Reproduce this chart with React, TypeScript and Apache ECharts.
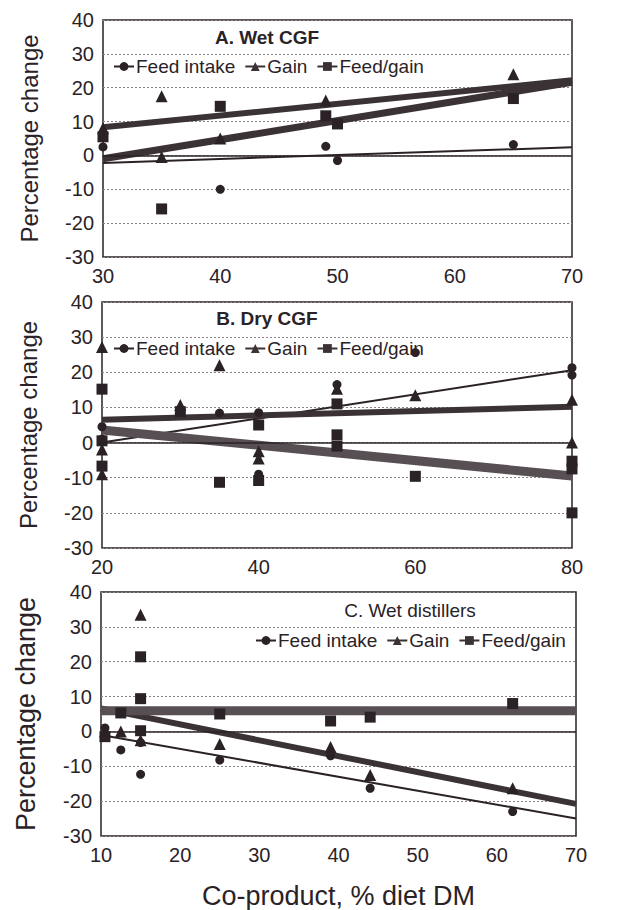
import React, { useEffect, useRef } from "react";
import * as echarts from "echarts";

// ---- Data ----
const panelTitles = ["A. Wet CGF", "B. Dry CGF", "C. Wet distillers"];
const seriesNames = ["Feed intake", "Gain", "Feed/gain"];
const yMin = -30;
const yMax = 40;
const yStep = 10;
const xRangeA = [30, 70, 10];
const xRangeB = [20, 80, 20];
const xRangeC = [10, 70, 10];

// Panel A: Wet CGF
const aFeedIntakePts = [[30, 2.5], [40, -10], [49, 2.7], [50, -1.5], [65, 3.2]];
const aGainPts = [[30, 8], [35, 17.5], [35, -0.5], [40, 5], [49, 16.2], [65, 24]];
const aFeedGainPts = [[30, 5.5], [35, -15.8], [40, 14.5], [49, 11.7], [50, 9.3], [65, 16.8]];
const aFeedIntakeFit = [[30, -2.2], [70, 2.4]];
const aGainFit = [[30, 8.3], [70, 22.2]];
const aFeedGainFit = [[30, -1], [70, 21.6]];

// Panel B: Dry CGF
const bFeedIntakePts = [[20, 4.5], [20, 1], [35, 8.4], [40, 8.5], [40, -9], [40, -10], [50, 16.5], [60, 25.6], [80, 21.3], [80, 19.2]];
const bGainPts = [[20, 27.2], [20, -2], [20, -9], [30, 10.7], [35, 22], [40, -4.5], [40, -2.5], [50, 15.3], [60, 13.5], [80, 12.2], [80, 0]];
const bFeedGainPts = [[20, 15.2], [20, -6.7], [20, 0.5], [30, 8.8], [35, -11.3], [40, 5], [40, -10.8], [50, 11], [50, 2.2], [50, -1], [60, -9.6], [80, -5.3], [80, -7.5], [80, -20]];
const bFeedIntakeFit = [[20, 0], [80, 20.6]];
const bGainFit = [[20, 6.5], [80, 10.2]];
const bFeedGainFit = [[20, 3.6], [80, -9.5]];

// Panel C: Wet distillers
const cFeedIntakePts = [[10.5, 1], [10.5, -1], [12.5, -5.3], [15, -3.2], [15, -12.3], [25, -8.2], [39, -7], [44, -16.3], [62, -23]];
const cGainPts = [[10.5, 0], [12.5, 0], [15, 33.5], [15, -2.5], [25, -3.6], [39, -4.5], [44, -12.5], [62, -16.3]];
const cFeedGainPts = [[10.5, -1.5], [12.5, 5.3], [15, 21.4], [15, 9.4], [15, 0.2], [25, 5], [39, 3], [44, 4.1], [62, 8]];
const cFeedIntakeFit = [[10, -1], [70, -25]];
const cGainFit = [[10, 6.6], [70, -20.8]];
const cFeedGainFit = [[10, 5.9], [70, 5.9]];

const FONT = "'Liberation Sans', Arial, Helvetica, sans-serif";
const INK = "#2a2226";
const DARK = "#3b3236";
const GRAY = "#574f53";

export default function App() {
  const ref = useRef<HTMLDivElement>(null);

  useEffect(() => {
    if (!ref.current) return;
    const chart = echarts.init(ref.current, null, { renderer: "svg" });

    const grids = [
      { left: 103, top: 20, width: 469, height: 237 },
      { left: 102, top: 302, width: 470, height: 246 },
      { left: 101, top: 592, width: 475, height: 244 },
    ].map((g) => ({ ...g, show: true, borderColor: INK, borderWidth: 1.5, backgroundColor: "transparent" }));

    const xr = [xRangeA, xRangeB, xRangeC];
    const xAxes = xr.map((r, i) => ({
      type: "value",
      gridIndex: i,
      min: r[0],
      max: r[1],
      interval: r[2],
      axisLine: { show: false },
      axisTick: { show: false },
      splitLine: { show: false },
      axisLabel: { fontSize: 20, color: INK, fontFamily: FONT, margin: 9 },
      ...(i === 2
        ? {
            name: "Co-product, % diet DM",
            nameLocation: "middle",
            nameGap: 46,
            nameTextStyle: { fontSize: 27, color: INK, fontFamily: FONT },
          }
        : {}),
    }));

    const yAxes = [0, 1, 2].map((i) => ({
      type: "value",
      gridIndex: i,
      min: yMin,
      max: yMax,
      interval: yStep,
      axisLine: { show: false },
      axisTick: { show: false },
      splitLine: { show: true, lineStyle: { color: "#8a8486", type: [2, 2], width: 1 } },
      axisLabel: { fontSize: 20, color: INK, fontFamily: FONT, margin: 9 },
      name: "Percentage change",
      nameLocation: "middle",
      nameGap: i === 2 ? 62 : 62,
      nameRotate: 90,
      nameTextStyle: { fontSize: i === 2 ? 27 : 24, color: INK, fontFamily: FONT },
    }));

    const fits = [
      [aFeedIntakeFit, aGainFit, aFeedGainFit],
      [bFeedIntakeFit, bGainFit, bFeedGainFit],
      [cFeedIntakeFit, cGainFit, cFeedGainFit],
    ];
    const pts = [
      [aFeedIntakePts, aGainPts, aFeedGainPts],
      [bFeedIntakePts, bGainPts, bFeedGainPts],
      [cFeedIntakePts, cGainPts, cFeedGainPts],
    ];
    const symbols = ["circle", "triangle", "rect"];
    const symSizes = [9, 12, 11];

    const lineSeries: any[] = [];
    const scatterSeries: any[] = [];
    for (let p = 0; p < 3; p++) {
      for (let s = 0; s < 3; s++) {
        const width = s === 0 ? 2 : s === 1 ? 6 : p === 0 ? 7 : 9;
        const color = s === 2 && p > 0 ? GRAY : s === 0 ? INK : DARK;
        const ser: any = {
          type: "line",
          name: seriesNames[s],
          xAxisIndex: p,
          yAxisIndex: p,
          data: fits[p][s],
          symbol: symbols[s],
          symbolSize: symSizes[s],
          showSymbol: false,
          color: color,
          lineStyle: { color, width },
          itemStyle: { color },
          z: 3,
        };
        if (s === 0) {
          ser.markLine = {
            silent: true,
            symbol: ["none", "none"],
            label: { show: false },
            lineStyle: { color: INK, type: "solid", width: 1.5 },
            data: [{ yAxis: 0 }],
          };
        }
        lineSeries.push(ser);
        scatterSeries.push({
          type: "scatter",
          name: seriesNames[s],
          xAxisIndex: p,
          yAxisIndex: p,
          data: pts[p][s],
          symbol: symbols[s],
          symbolSize: symSizes[s],
          itemStyle: { color: INK, opacity: 1 },
          z: 4,
        });
      }
    }

    const legendBase = {
      orient: "horizontal",
      itemWidth: 20,
      itemHeight: 11,
      itemGap: 9,
      selectedMode: false,
      textStyle: { fontSize: 19, color: INK, fontFamily: FONT, padding: [0, 0, 0, -3] },
      data: seriesNames,
    };

    chart.setOption({
      animation: false,
      backgroundColor: "#ffffff",
      grid: grids,
      xAxis: xAxes,
      yAxis: yAxes,
      legend: [
        { ...legendBase, left: 108, top: 52 },
        { ...legendBase, left: 108, top: 334 },
        { ...legendBase, left: 250, top: 626 },
      ],
      graphic: [
        { type: "text", x: 267, y: 37, style: { text: panelTitles[0], align: "center", verticalAlign: "middle", font: `bold 19px ${FONT}`, fill: INK } },
        { type: "text", x: 267, y: 318, style: { text: panelTitles[1], align: "center", verticalAlign: "middle", font: `bold 19px ${FONT}`, fill: INK } },
        { type: "text", x: 410, y: 610, style: { text: panelTitles[2], align: "center", verticalAlign: "middle", font: `19px ${FONT}`, fill: INK } },
      ],
      series: [...lineSeries, ...scatterSeries],
    });

    return () => chart.dispose();
  }, []);

  return (
    <div
      ref={ref}
      style={{ position: "absolute", left: 0, top: 0, width: 624, height: 910, background: "#fff" }}
    />
  );
}
